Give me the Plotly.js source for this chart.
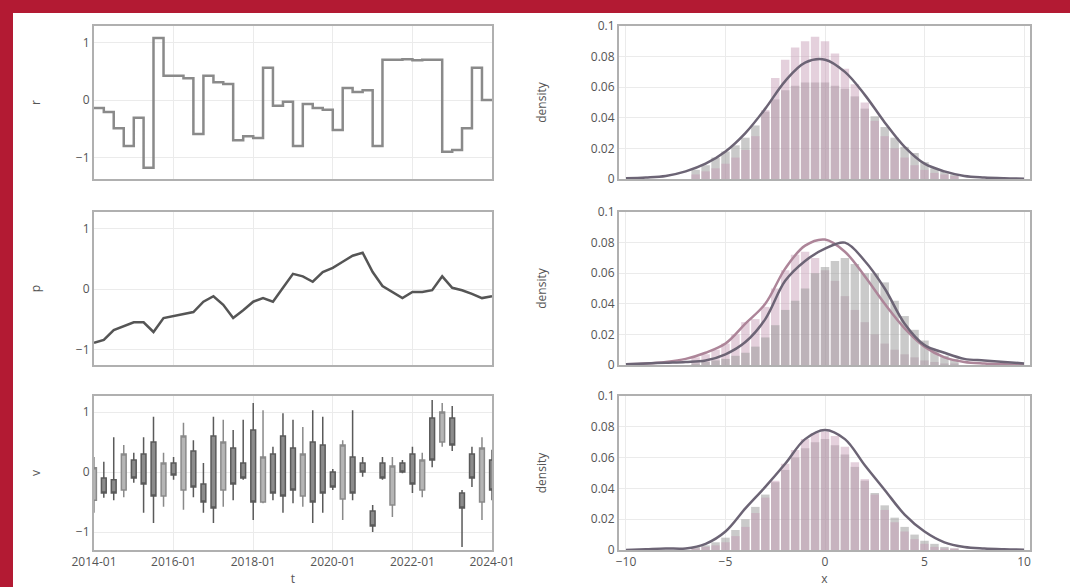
<!DOCTYPE html>
<html>
<head>
<meta charset="utf-8">
<script src="https://cdn.plot.ly/plotly-3.0.1.min.js"></script>
<style>
  html, body { margin: 0; padding: 0; width: 1070px; height: 587px; overflow: hidden; background: #b31a33; }
  #chart { position: absolute; left: 13px; top: 13px; width: 1057px; height: 574px; background: #ffffff; }
</style>
</head>
<body>
<div id="chart"></div>
<script>
// ---------- data ----------
const dates = ['2014-01-01','2014-04-01','2014-07-01','2014-10-01','2015-01-01','2015-04-01','2015-07-01','2015-10-01',
  '2016-01-01','2016-04-01','2016-07-01','2016-10-01','2017-01-01','2017-04-01','2017-07-01','2017-10-01',
  '2018-01-01','2018-04-01','2018-07-01','2018-10-01','2019-01-01','2019-04-01','2019-07-01','2019-10-01',
  '2020-01-01','2020-04-01','2020-07-01','2020-10-01','2021-01-01','2021-04-01','2021-07-01','2021-10-01',
  '2022-01-01','2022-04-01','2022-07-01','2022-10-01','2023-01-01','2023-04-01','2023-07-01','2023-10-01','2024-01-01'];

const stepValues = [-0.14,-0.21,-0.49,-0.80,-0.31,-1.18,1.08,0.42,0.42,0.38,-0.59,0.42,0.31,0.28,-0.70,-0.63,-0.66,0.56,-0.10,-0.03,
  -0.80,-0.07,-0.14,-0.17,-0.52,0.21,0.14,0.17,-0.80,0.70,0.70,0.71,0.69,0.70,0.70,-0.90,-0.87,-0.49,0.56,0.00,0.00];

const lineValues = [-0.89,-0.84,-0.68,-0.61,-0.55,-0.55,-0.71,-0.48,-0.45,-0.41,-0.38,-0.21,-0.12,-0.26,-0.48,-0.35,-0.21,-0.15,-0.21,0.02,
  0.25,0.21,0.12,0.28,0.35,0.45,0.55,0.60,0.28,0.05,-0.05,-0.15,-0.05,-0.05,-0.02,0.21,0.02,-0.02,-0.08,-0.15,-0.12];

const ohlcOpen  = [-0.47,-0.10,-0.13,-0.30,0.20,0.30,0.50,-0.40,0.15,-0.30,0.35,-0.20,0.60,-0.30,0.40,0.15,0.70,-0.50,0.30,0.60,
  0.40,-0.40,0.50,0.45,0.00,-0.45,0.25,0.15,-0.65,0.15,-0.55,0.15,0.30,-0.30,0.90,0.50,0.90,-0.35,0.30,-0.50,0.20];
const ohlcHigh  = [0.25,0.17,0.58,0.45,0.32,0.58,0.92,0.32,0.25,0.82,0.53,0.15,0.92,0.87,0.70,0.87,1.15,1.03,0.42,0.98,
  0.87,0.75,1.03,0.92,0.05,0.53,1.03,0.25,-0.55,0.25,0.25,0.20,0.42,0.32,1.20,1.15,1.10,-0.30,0.42,0.58,0.37];
const ohlcLow   = [-0.68,-0.43,-0.47,-0.42,-0.18,-0.68,-0.85,-0.58,-0.13,-0.63,-0.42,-0.68,-0.85,-0.58,-0.47,-0.13,-0.80,-0.52,-0.47,-0.68,
  -0.52,-0.58,-0.85,-0.68,-0.30,-0.80,-0.47,-0.08,-1.00,-0.13,-0.75,-0.02,-0.35,-0.42,0.08,0.42,0.35,-1.25,-0.25,-0.80,-0.47];
const ohlcClose = [0.07,-0.35,-0.35,0.30,-0.10,-0.20,-0.40,0.15,-0.05,0.60,-0.25,-0.50,-0.60,0.50,-0.20,-0.10,-0.50,0.25,-0.35,-0.40,
  -0.30,0.30,-0.50,-0.35,-0.25,0.45,-0.35,0.00,-0.90,-0.10,0.10,0.00,-0.20,0.20,0.20,1.00,0.45,-0.60,-0.10,0.40,-0.30];

const binCenters = [-6.5,-6,-5.5,-5,-4.5,-4,-3.5,-3,-2.5,-2,-1.5,-1,-0.5,0,0.5,1,1.5,2,2.5,3,3.5,4,4.5,5,5.5,6,6.5];
const curveX = [-10,-9,-8,-7,-6,-5,-4,-3,-2,-1,0,1,2,3,4,5,6,7,8,9,10];

const grey1 = [0.006,0.009,0.014,0.018,0.022,0.027,0.035,0.044,0.052,0.058,0.061,0.063,0.063,0.063,0.061,0.059,0.054,0.046,0.041,0.034,0.027,0.021,0.017,0.011,0.007,0.005,0.003];
const pink1 = [0.003,0.005,0.007,0.010,0.014,0.019,0.028,0.045,0.066,0.078,0.086,0.090,0.093,0.090,0.082,0.072,0.062,0.050,0.038,0.028,0.020,0.014,0.009,0.006,0.004,0.003,0.002];
const curve1 = [0.0005,0.001,0.002,0.005,0.010,0.018,0.030,0.046,0.064,0.076,0.078,0.070,0.055,0.037,0.021,0.010,0.005,0.002,0.001,0.0005,0.0002];

const pink2 = [0.005,0.007,0.010,0.014,0.020,0.028,0.030,0.038,0.050,0.062,0.072,0.074,0.070,0.062,0.055,0.045,0.036,0.028,0.020,0.014,0.010,0.007,0.005,0.003,0.002,0.001,0.001];
const grey2 = [0.001,0.002,0.003,0.004,0.006,0.008,0.012,0.018,0.026,0.036,0.042,0.050,0.060,0.064,0.068,0.070,0.066,0.060,0.060,0.054,0.042,0.032,0.023,0.016,0.010,0.006,0.004];
const curveA2 = [0.0005,0.001,0.002,0.004,0.008,0.014,0.027,0.040,0.063,0.078,0.082,0.074,0.058,0.040,0.024,0.012,0.005,0.002,0.001,0.0005,0.0002];
const curveB2 = [0.0005,0.001,0.0015,0.002,0.003,0.007,0.015,0.030,0.055,0.068,0.076,0.080,0.068,0.050,0.027,0.013,0.008,0.004,0.003,0.002,0.001];

const grey3 = [0.002,0.003,0.005,0.008,0.013,0.020,0.028,0.036,0.044,0.052,0.060,0.066,0.070,0.072,0.068,0.062,0.054,0.045,0.037,0.029,0.021,0.015,0.010,0.006,0.004,0.002,0.001];
const pink3 = [0.001,0.002,0.003,0.005,0.009,0.015,0.024,0.034,0.045,0.056,0.065,0.072,0.076,0.077,0.074,0.067,0.057,0.046,0.036,0.026,0.018,0.012,0.007,0.004,0.002,0.001,0.001];
const curve3 = [0.0,0.0005,0.001,0.001,0.004,0.012,0.027,0.041,0.056,0.072,0.078,0.072,0.055,0.039,0.023,0.012,0.005,0.002,0.001,0.0005,0.0002];

const leftYTicks = [-1, 0, 1];
const rightYTicks = [0, 0.02, 0.04, 0.06, 0.08, 0.1];
const rightXTicks = [-10, -5, 0, 5, 10];

// ---------- styles ----------
const GREY_BAR = 'rgba(150,150,150,0.5)';
const PINK_BAR = 'rgba(196,150,178,0.45)';
const CURVE = '#6c6475';
const CURVE_PINK = '#ad8599';

const traces = [
  {type:'scatter', mode:'lines', x:dates, y:stepValues, line:{shape:'hv', color:'#8a8a8a', width:2.5}, xaxis:'x', yaxis:'y'},
  {type:'scatter', mode:'lines', x:dates, y:lineValues, line:{color:'#555555', width:2.5}, xaxis:'x3', yaxis:'y3'},
  {type:'candlestick', x:dates, open:ohlcOpen, high:ohlcHigh, low:ohlcLow, close:ohlcClose, xaxis:'x5', yaxis:'y5',
    increasing:{line:{color:'#8a8a8a', width:1.5}, fillcolor:'#b5b5b5'},
    decreasing:{line:{color:'#5a5a5a', width:1.5}, fillcolor:'#8c8c8c'}, whiskerwidth:0},

  {type:'bar', x:binCenters, y:grey1, marker:{color:GREY_BAR}, xaxis:'x2', yaxis:'y2'},
  {type:'bar', x:binCenters, y:pink1, marker:{color:PINK_BAR}, xaxis:'x2', yaxis:'y2'},
  {type:'scatter', mode:'lines', x:curveX, y:curve1, line:{shape:'spline', color:CURVE, width:2.5}, xaxis:'x2', yaxis:'y2'},

  {type:'bar', x:binCenters, y:pink2, marker:{color:PINK_BAR}, xaxis:'x4', yaxis:'y4'},
  {type:'bar', x:binCenters, y:grey2, marker:{color:GREY_BAR}, xaxis:'x4', yaxis:'y4'},
  {type:'scatter', mode:'lines', x:curveX, y:curveA2, line:{shape:'spline', color:CURVE_PINK, width:2.5}, xaxis:'x4', yaxis:'y4'},
  {type:'scatter', mode:'lines', x:curveX, y:curveB2, line:{shape:'spline', color:CURVE, width:2.5}, xaxis:'x4', yaxis:'y4'},

  {type:'bar', x:binCenters, y:grey3, marker:{color:GREY_BAR}, xaxis:'x6', yaxis:'y6'},
  {type:'bar', x:binCenters, y:pink3, marker:{color:PINK_BAR}, xaxis:'x6', yaxis:'y6'},
  {type:'scatter', mode:'lines', x:curveX, y:curve3, line:{shape:'spline', color:CURVE, width:2.5}, xaxis:'x6', yaxis:'y6'}
];

const W = 1057, H = 574, OX = 13, OY = 13;
const fx = p => (p - OX) / W;
const fy = p => 1 - (p - OY) / H;
const LX = [fx(94), fx(492)], RX = [fx(619), fx(1030)];
const ROWS = [[fy(179), fy(26)], [fy(365), fy(212)], [fy(550), fy(396)]];

const axBase = {showline:true, mirror:true, linecolor:'#b0b0b0', linewidth:2, gridcolor:'#ebebeb', zeroline:false,
  ticks:'', tickfont:{size:12, color:'#555'}};
const dateX = (dom, showLabels, anchor) => Object.assign({}, axBase, {type:'date', domain:dom, anchor:anchor,
  range:['2014-01-01','2024-01-01'], tickmode:'linear', tick0:'2014-01-01', dtick:'M24', tickformat:'%Y-%m',
  showticklabels:showLabels, rangeslider:{visible:false}});
const numX = (dom, showLabels, anchor) => Object.assign({}, axBase, {domain:dom, anchor:anchor, range:[-10.35, 10.3],
  tickmode:'array', tickvals:rightXTicks, showticklabels:showLabels});
const leftY = (dom, rng, title, anchor) => Object.assign({}, axBase, {domain:dom, anchor:anchor, range:rng,
  tickmode:'array', tickvals:leftYTicks, title:{text:title, font:{size:12, color:'#555'}, standoff:33}});
const rightY = (dom, title, anchor) => Object.assign({}, axBase, {domain:dom, anchor:anchor, range:[0, 0.1],
  tickmode:'array', tickvals:rightYTicks, title:{text:title, font:{size:12, color:'#555'}, standoff:42}});

const layout = {
  width: W, height: H,
  margin: {l:0, r:0, t:0, b:0},
  paper_bgcolor: '#ffffff', plot_bgcolor: '#ffffff',
  font: {family:'Open Sans, sans-serif', size:12, color:'#555'},
  showlegend: false,
  barmode: 'overlay', bargap: 0.15,
  xaxis:  dateX(LX, false, 'y'),
  yaxis:  leftY(ROWS[0], [-1.374, 1.287], 'r', 'x'),
  xaxis2: numX(RX, false, 'y2'),
  yaxis2: rightY(ROWS[0], 'density', 'x2'),
  xaxis3: dateX(LX, false, 'y3'),
  yaxis3: leftY(ROWS[1], [-1.256, 1.273], 'p', 'x3'),
  xaxis4: numX(RX, false, 'y4'),
  yaxis4: rightY(ROWS[1], 'density', 'x4'),
  xaxis5: Object.assign(dateX(LX, true, 'y5'), {title:{text:'t', font:{size:12, color:'#555'}, standoff:6}}),
  yaxis5: leftY(ROWS[2], [-1.30, 1.267], 'v', 'x5'),
  xaxis6: Object.assign(numX(RX, true, 'y6'), {title:{text:'x', font:{size:12, color:'#555'}, standoff:6}}),
  yaxis6: rightY(ROWS[2], 'density', 'x6')
};

Plotly.newPlot('chart', traces, layout, {displayModeBar:false, staticPlot:true});
</script>
</body>
</html>
